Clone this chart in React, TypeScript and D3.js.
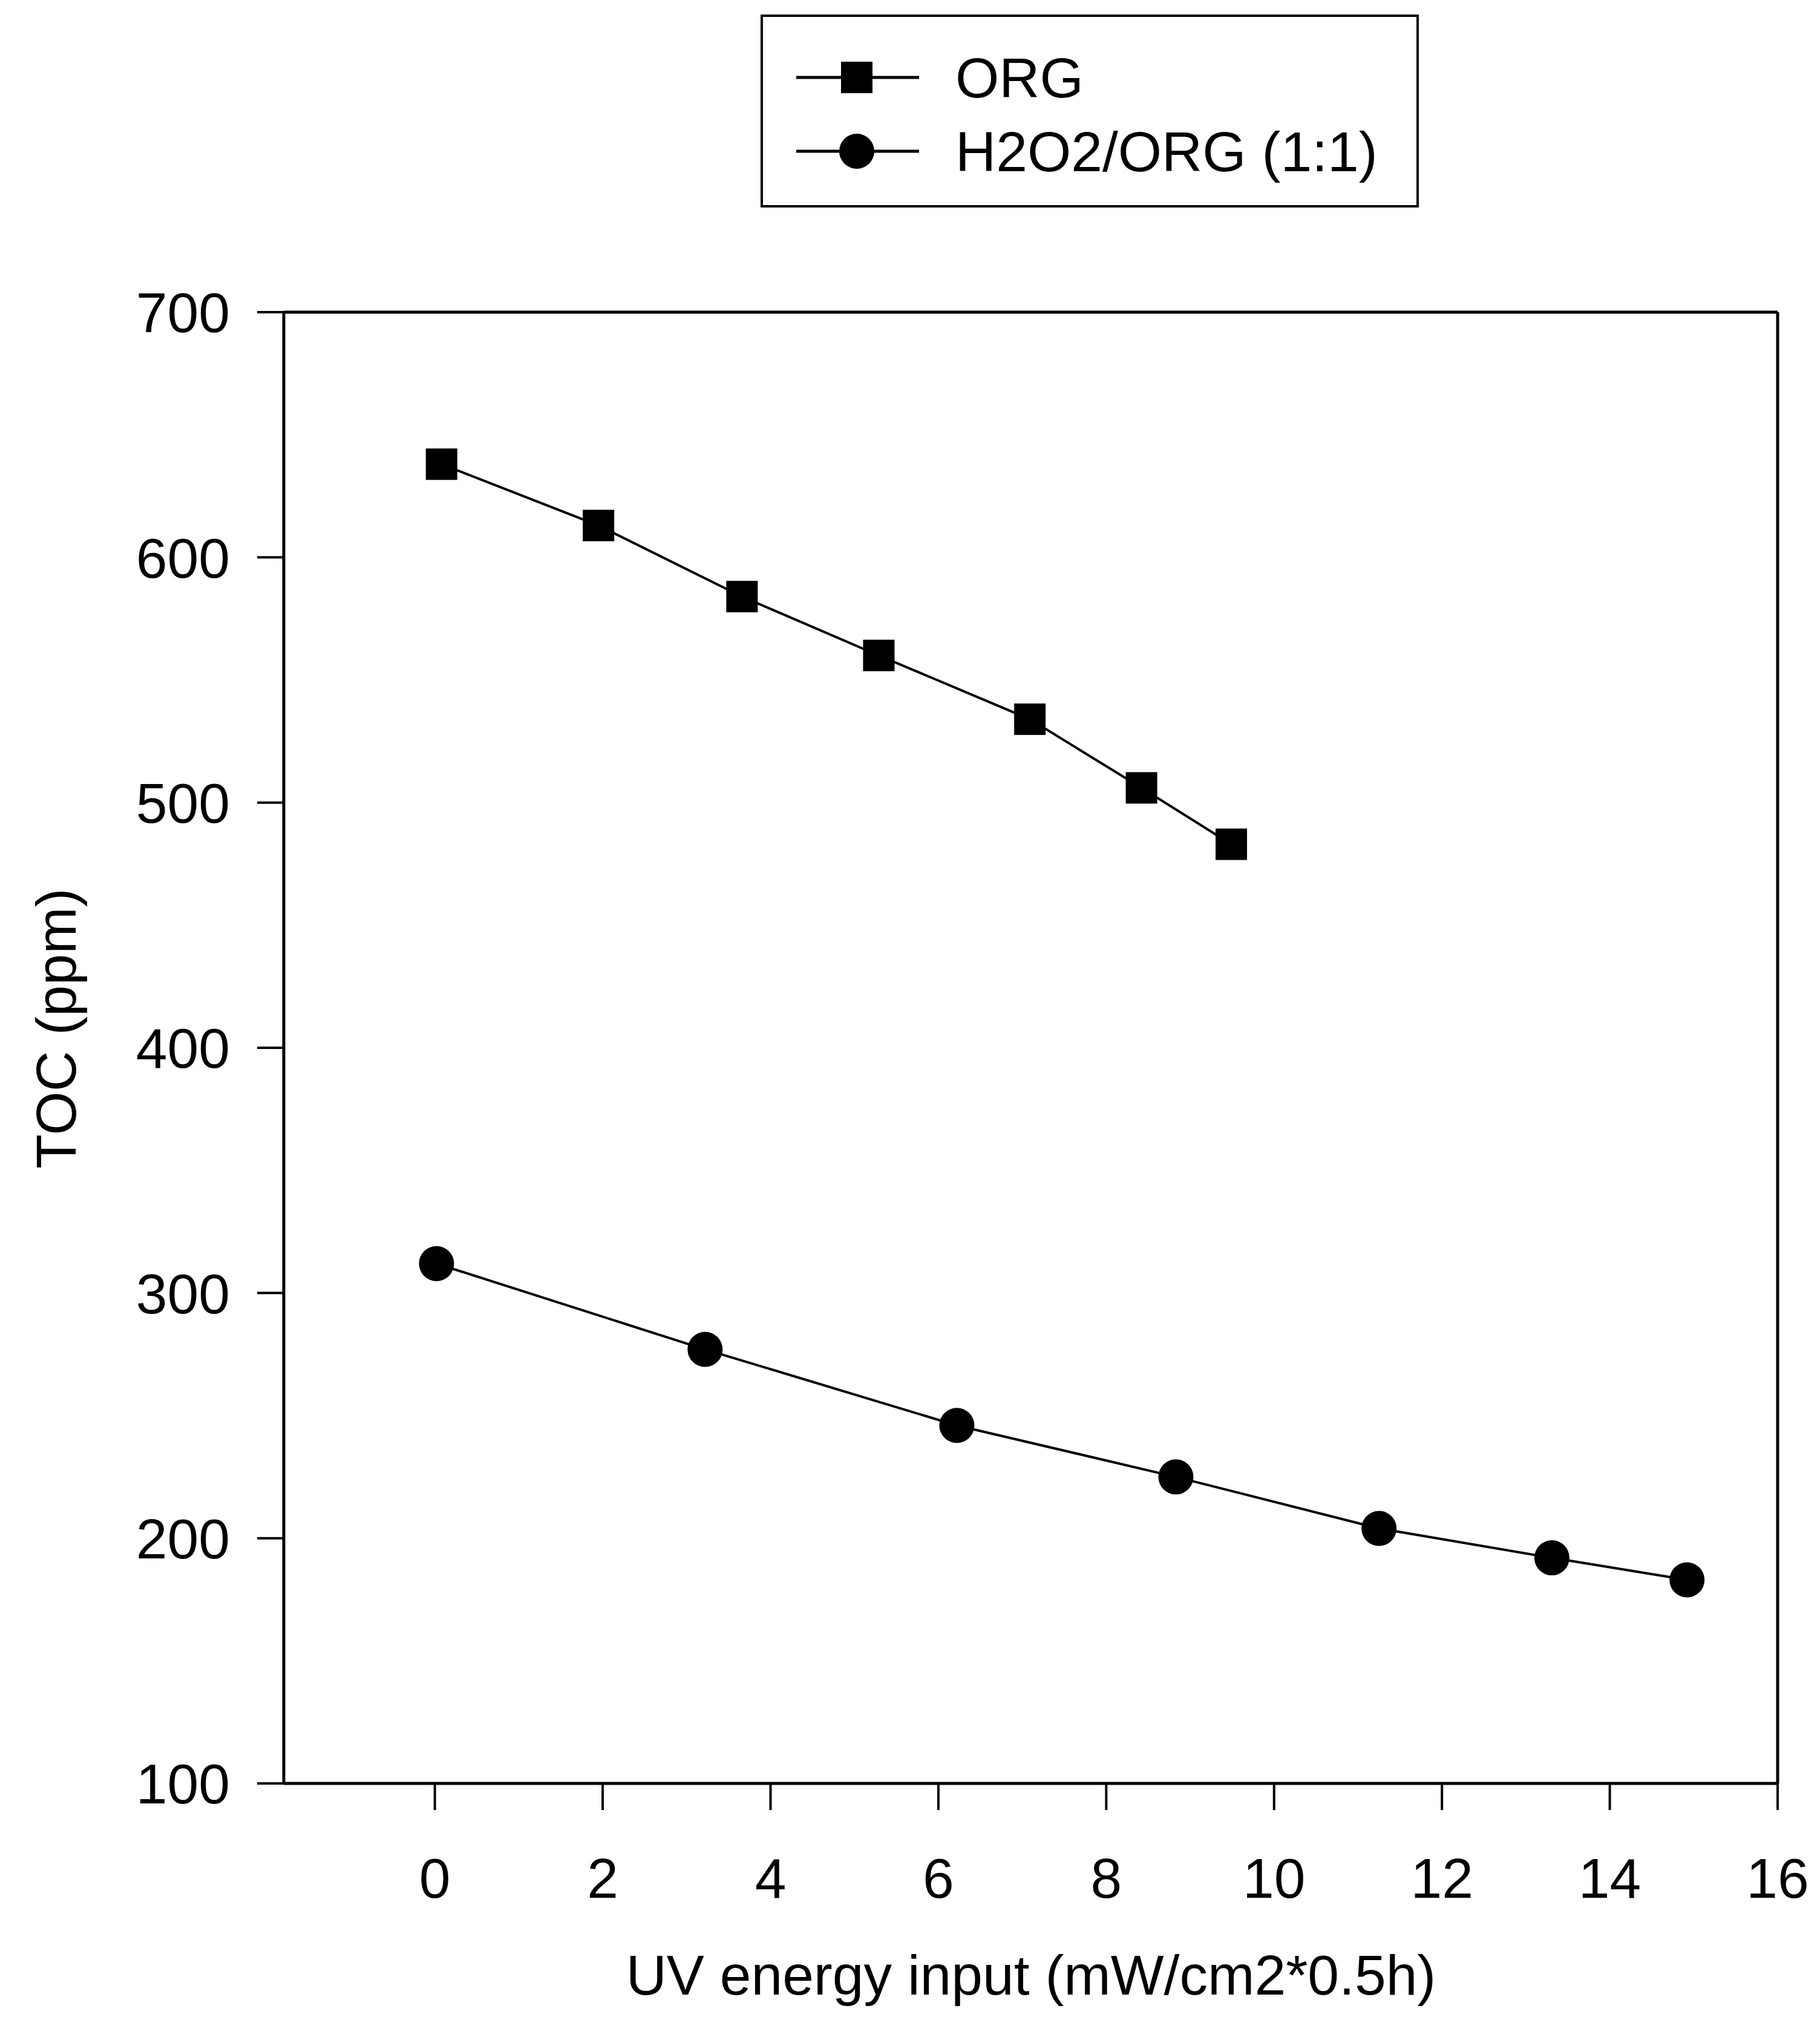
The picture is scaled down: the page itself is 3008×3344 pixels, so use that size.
import React from "react";
import * as d3 from "d3";

// UV energy input (mW/cm2*0.5h) and TOC (ppm) for each treatment
const orgEnergy = [0.08, 1.95, 3.66, 5.29, 7.09, 8.42, 9.49];
const orgToc = [638, 613, 584, 560, 534, 506, 483];

const h2o2Energy = [0.02, 3.22, 6.22, 8.83, 11.25, 13.31, 14.92];
const h2o2Toc = [312, 277, 246, 225, 204, 192, 183];

const xTicks = [0, 2, 4, 6, 8, 10, 12, 14, 16];
const yTicks = [100, 200, 300, 400, 500, 600, 700];

const seriesNames = ["ORG", "H2O2/ORG (1:1)"];

const W = 3008;
const H = 3344;
const FONT = "'Liberation Sans', Arial, Helvetica, sans-serif";
const FS = 93;

export default function App() {
  const x = d3.scaleLinear().domain([-1.8, 16]).range([469, 2938]);
  const y = d3.scaleLinear().domain([100, 700]).range([2948, 516]);

  const org = orgEnergy.map((e, i) => [e, orgToc[i]] as [number, number]);
  const h2o2 = h2o2Energy.map((e, i) => [e, h2o2Toc[i]] as [number, number]);

  const line = d3
    .line<[number, number]>()
    .x((d) => x(d[0]))
    .y((d) => y(d[1]));

  const [x0, x1] = x.range();
  const [yBottom, yTop] = y.range();
  const tickLen = 44;
  const sq = 52;
  const r = 29;

  const legendX = 1259;
  const legendY = 26;
  const legendW = 1084;
  const legendH = 315;
  const rows = [128, 250];

  return (
    <svg
      width={W}
      height={H}
      viewBox={`0 0 ${W} ${H}`}
      style={{ position: "absolute", left: 0, top: 0, background: "#fff" }}
    >
      <rect x={0} y={0} width={W} height={H} fill="#fff" />

      {/* frame */}
      <g stroke="#000" strokeWidth={5} fill="none">
        <line x1={x0} y1={yTop} x2={x1} y2={yTop} />
        <line x1={x1} y1={yTop} x2={x1} y2={yBottom} />
        <line x1={x0} y1={yTop} x2={x0} y2={yBottom} />
        <line x1={x0} y1={yBottom} x2={x1} y2={yBottom} />
      </g>

      {/* y axis ticks and labels */}
      <g stroke="#000" strokeWidth={4}>
        {yTicks.map((t) => (
          <line key={t} x1={x0 - tickLen} y1={y(t)} x2={x0} y2={y(t)} />
        ))}
      </g>
      <g fontFamily={FONT} fontSize={FS} textAnchor="end" fill="#000">
        {yTicks.map((t) => (
          <text key={t} x={380} y={y(t)} dy="0.36em">
            {t}
          </text>
        ))}
      </g>

      {/* x axis ticks and labels */}
      <g stroke="#000" strokeWidth={4}>
        {xTicks.map((t) => (
          <line key={t} x1={x(t)} y1={yBottom} x2={x(t)} y2={yBottom + tickLen} />
        ))}
      </g>
      <g fontFamily={FONT} fontSize={FS} textAnchor="middle" fill="#000">
        {xTicks.map((t) => (
          <text key={t} x={x(t)} y={3104} dy="0.36em">
            {t}
          </text>
        ))}
      </g>

      {/* axis titles */}
      <text
        x={1704}
        y={3264}
        dy="0.36em"
        fontFamily={FONT}
        fontSize={FS}
        textAnchor="middle"
        fill="#000"
      >
        UV energy input (mW/cm2*0.5h)
      </text>
      <text
        transform={`translate(92,1700) rotate(-90)`}
        dy="0.36em"
        fontFamily={FONT}
        fontSize={FS}
        textAnchor="middle"
        fill="#000"
      >
        TOC (ppm)
      </text>

      {/* series */}
      <path d={line(org) ?? ""} fill="none" stroke="#000" strokeWidth={4} />
      <path d={line(h2o2) ?? ""} fill="none" stroke="#000" strokeWidth={4} />
      {org.map((d, i) => (
        <rect
          key={i}
          x={x(d[0]) - sq / 2}
          y={y(d[1]) - sq / 2}
          width={sq}
          height={sq}
          fill="#000"
        />
      ))}
      {h2o2.map((d, i) => (
        <circle key={i} cx={x(d[0])} cy={y(d[1])} r={r} fill="#000" />
      ))}

      {/* legend */}
      <rect
        x={legendX}
        y={legendY}
        width={legendW}
        height={legendH}
        fill="#fff"
        stroke="#000"
        strokeWidth={4}
      />
      {seriesNames.map((name, i) => (
        <g key={name}>
          <line x1={1316} y1={rows[i]} x2={1519} y2={rows[i]} stroke="#000" strokeWidth={5} />
          {i === 0 ? (
            <rect x={1416 - sq / 2} y={rows[i] - sq / 2} width={sq} height={sq} fill="#000" />
          ) : (
            <circle cx={1416} cy={rows[i]} r={r} fill="#000" />
          )}
          <text
            x={1579}
            y={rows[i]}
            dy="0.36em"
            fontFamily={FONT}
            fontSize={FS}
            fill="#000"
          >
            {name}
          </text>
        </g>
      ))}
    </svg>
  );
}
